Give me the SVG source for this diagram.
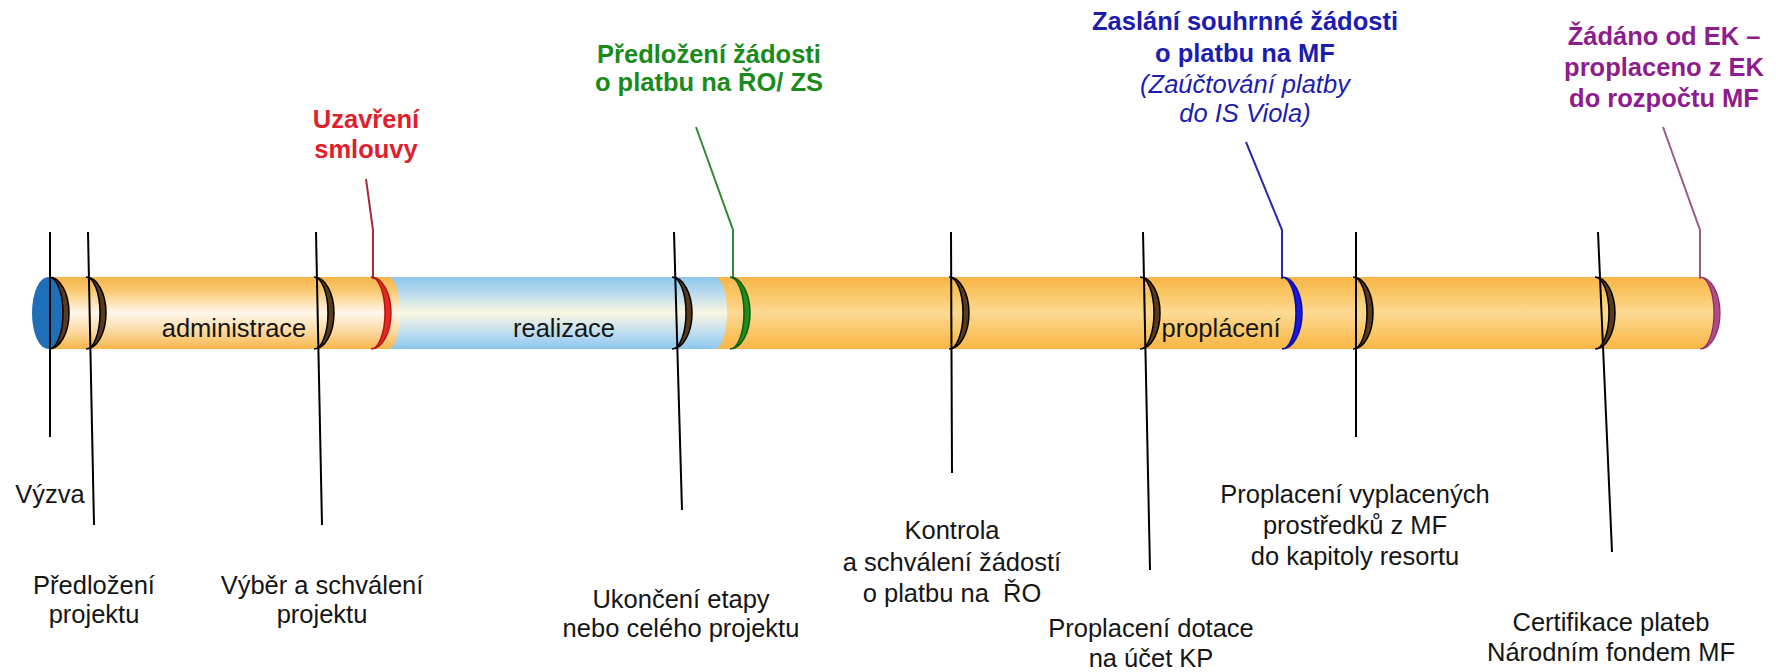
<svg xmlns="http://www.w3.org/2000/svg" width="1776" height="672" viewBox="0 0 1776 672">
<defs>
<linearGradient id="gA" x1="0" y1="0" x2="0" y2="1">
<stop offset="0" stop-color="#F6B547"/><stop offset="0.18" stop-color="#F9C76E"/><stop offset="0.5" stop-color="#FFF8EC"/><stop offset="0.82" stop-color="#FAD08C"/><stop offset="1" stop-color="#F6B547"/>
</linearGradient>
<linearGradient id="gB" x1="0" y1="0" x2="0" y2="1">
<stop offset="0" stop-color="#8EC6EC"/><stop offset="0.2" stop-color="#B4D8F0"/><stop offset="0.5" stop-color="#FAF6E0"/><stop offset="0.8" stop-color="#B8DAF1"/><stop offset="1" stop-color="#8EC6EC"/>
</linearGradient>
<linearGradient id="gC" x1="0" y1="0" x2="0" y2="1">
<stop offset="0" stop-color="#F7B547"/><stop offset="0.2" stop-color="#FAC461"/><stop offset="0.5" stop-color="#FCD993"/><stop offset="0.8" stop-color="#FAC461"/><stop offset="1" stop-color="#F7B547"/>
</linearGradient>
<path id="cres" d="M0,277 A20 36 0 0 1 0,349 A14 36 0 0 0 0,277 Z"/>
</defs>
<style>
.lbl{font-family:"Liberation Sans",Arial,sans-serif;font-size:25.5px;fill:#151515;text-anchor:middle}
.co{font-family:"Liberation Sans",Arial,sans-serif;font-size:25.5px;font-weight:bold;text-anchor:middle}
.it{font-weight:normal;font-style:italic}
.mk{fill:#5A3A1C;stroke:#000;stroke-width:1.5}
.ln{stroke:#000;stroke-width:2;fill:none}
.cl{stroke-width:2;fill:none}
</style>
<rect width="1776" height="672" fill="#FFFFFF"/>

<g id="tube">
<path d="M700,277 H1700 A18 36 0 0 1 1700,349 H700 Z" fill="url(#gC)"/>
<path d="M380,277 H715 A12 36 0 0 1 715,349 H380 Z" fill="url(#gB)"/>
<path d="M49,277 H388 A12 36 0 0 1 388,349 H49 Z" fill="url(#gA)"/>
<ellipse cx="48" cy="313" rx="16" ry="36" fill="#1E6FB8"/>
<text class="lbl" x="234" y="337" fill="#222">administrace</text>
<text class="lbl" x="564" y="337">realizace</text>
<text class="lbl" x="1221" y="337">proplácení</text>
</g>

<g id="connectors">
<line class="ln" x1="50" y1="232" x2="50" y2="437"/>
<line class="ln" x1="88" y1="232" x2="94" y2="525"/>
<line class="ln" x1="316" y1="232" x2="322" y2="525"/>
<line class="ln" x1="674" y1="232" x2="682" y2="510"/>
<line class="ln" x1="951" y1="232" x2="952" y2="473"/>
<line class="ln" x1="1143" y1="232" x2="1150" y2="570"/>
<line class="ln" x1="1356" y1="232" x2="1356" y2="437"/>
<line class="ln" x1="1598" y1="232" x2="1612" y2="552"/>
<polyline class="cl" stroke="#A52A3A" points="366,179 373,230 373,279"/>
<polyline class="cl" stroke="#2E8B2E" points="696,127 733,230 733,279"/>
<polyline class="cl" stroke="#2A2AA8" points="1246,142 1282,230 1282,279"/>
<polyline class="cl" stroke="#9A5A8A" points="1663,127 1700,230 1700,279"/>
</g>

<g id="vyzva"><use href="#cres" x="49" class="mk"/><text class="lbl" x="50" y="503">Výzva</text></g>
<g id="predlozeni"><use href="#cres" x="86" class="mk"/><text class="lbl" x="94" y="594">Předložení</text><text class="lbl" x="94" y="623">projektu</text></g>
<g id="vyber"><use href="#cres" x="314" class="mk"/><text class="lbl" x="322" y="594">Výběr a schválení</text><text class="lbl" x="322" y="623">projektu</text></g>
<g id="uzavreni"><use href="#cres" x="371" fill="#E8281E" stroke="#B01818" stroke-width="1.5"/><text class="co" fill="#E0202C"><tspan x="366" y="128">Uzavření</tspan><tspan x="366" y="158">smlouvy</tspan></text></g>
<g id="ukonceni"><use href="#cres" x="672" class="mk"/><text class="lbl" x="681" y="608">Ukončení etapy</text><text class="lbl" x="681" y="637">nebo celého projektu</text></g>
<g id="predlozeni-zadosti"><use href="#cres" x="730" fill="#1E8C1E" stroke="#0E5E0E" stroke-width="1.5"/><text class="co" fill="#1A8A1A"><tspan x="709" y="63">Předložení žádosti</tspan><tspan x="709" y="91">o platbu na ŘO/ ZS</tspan></text></g>
<g id="kontrola"><use href="#cres" x="949" class="mk"/><text class="lbl" style="white-space:pre"><tspan x="952" y="539">Kontrola</tspan><tspan x="952" y="571">a schválení žádostí</tspan><tspan x="952" y="602">o platbu na  ŘO</tspan></text></g>
<g id="proplaceni-dotace"><use href="#cres" x="1140" class="mk"/><text class="lbl"><tspan x="1151" y="637">Proplacení dotace</tspan><tspan x="1151" y="667">na účet KP</tspan></text></g>
<g id="zaslani"><use href="#cres" x="1282" fill="#1818E0" stroke="#0A0AA0" stroke-width="1.5"/><text class="co" fill="#1C1CB0"><tspan x="1245" y="30">Zaslání souhrnné žádosti</tspan><tspan x="1245" y="62">o platbu na MF</tspan><tspan class="it" x="1245" y="93">(Zaúčtování platby</tspan><tspan class="it" x="1245" y="122">do IS Viola)</tspan></text></g>
<g id="proplaceni-vyplacenych"><use href="#cres" x="1353" class="mk"/><text class="lbl"><tspan x="1355" y="503">Proplacení vyplacených</tspan><tspan x="1355" y="534">prostředků z MF</tspan><tspan x="1355" y="565">do kapitoly resortu</tspan></text></g>
<g id="certifikace"><use href="#cres" x="1595" class="mk"/><text class="lbl"><tspan x="1611" y="631">Certifikace plateb</tspan><tspan x="1611" y="661">Národním fondem MF</tspan></text></g>
<g id="zadano"><use href="#cres" x="1700" fill="#B04C86" stroke="#8A2A6A" stroke-width="1.2"/><text class="co" fill="#8E1C8E"><tspan x="1664" y="45">Žádáno od EK –</tspan><tspan x="1664" y="76">proplaceno z EK</tspan><tspan x="1664" y="107">do rozpočtu MF</tspan></text></g>
</svg>
